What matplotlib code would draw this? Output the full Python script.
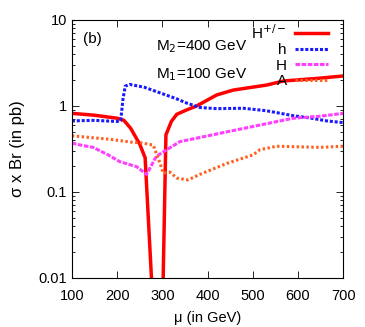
import matplotlib
matplotlib.use("Agg")
import matplotlib.pyplot as plt
from matplotlib.ticker import LogLocator, FixedLocator, NullFormatter

plt.rcParams['font.family'] = ['Liberation Sans', 'DejaVu Sans']

mu_hpm = [100, 150, 200, 215, 230, 250, 262, 280, 300, 308, 320, 332, 354, 376, 420, 457, 531, 568, 642, 700]
sig_hpm = [0.82, 0.78, 0.72, 0.68, 0.55, 0.36, 0.25, 0.004, 0.003, 0.46, 0.66, 0.80, 0.90, 1.0, 1.34, 1.53, 1.75, 1.95, 2.09, 2.23]

mu_h = [100, 150, 200, 208, 213, 218, 228, 260, 295, 330, 354, 383, 420, 479, 530, 590, 630, 664, 700]
sig_h = [0.67, 0.68, 0.66, 0.68, 1.2, 1.7, 1.78, 1.65, 1.42, 1.22, 1.08, 0.96, 0.93, 0.94, 0.88, 0.77, 0.72, 0.67, 0.64]

mu_H = [100, 120, 147, 180, 206, 243, 265, 287, 310, 339, 383, 443, 516, 590, 650, 700]
sig_H = [0.37, 0.35, 0.33, 0.27, 0.225, 0.197, 0.16, 0.26, 0.31, 0.385, 0.43, 0.50, 0.60, 0.72, 0.76, 0.82]

mu_A = [100, 140, 184, 230, 257, 280, 295, 302, 317, 332, 357, 383, 443, 501, 516, 553, 600, 650, 700]
sig_A = [0.45, 0.43, 0.41, 0.38, 0.37, 0.35, 0.215, 0.166, 0.17, 0.145, 0.138, 0.16, 0.215, 0.27, 0.31, 0.34, 0.335, 0.33, 0.34]

xticks = [100, 200, 300, 400, 500, 600, 700]
yticks = [0.01, 0.1, 1, 10]
ytick_labels = ['0.01', '0.1', '1', '10']

fig = plt.figure(figsize=(3.65, 3.27), dpi=100)
ax = fig.add_axes([0.197, 0.150, 0.743, 0.789])

ax.plot(mu_hpm, sig_hpm, color='#ff0000', lw=2.5, label='H$^{+/-}$', solid_joinstyle='miter')
ax.plot(mu_h, sig_h, color='#1a1aff', lw=2.2, ls=(0, (1, 0.6)), label='h')
ax.plot(mu_H, sig_H, color='#ff40ff', lw=2.2, ls=(0, (1.5, 0.5)), label='H')
ax.plot(mu_A, sig_A, color='#ff6020', lw=2.2, ls=(0, (0.8, 0.8)), label='A')

ax.set_yscale('log')
ax.set_xlim(100, 700)
ax.set_ylim(0.01, 10)
ax.xaxis.set_major_locator(FixedLocator(xticks))
ax.set_xticklabels([str(v) for v in xticks])
ax.yaxis.set_major_locator(FixedLocator(yticks))
ax.set_yticklabels(ytick_labels)
ax.yaxis.set_minor_locator(LogLocator(base=10, subs=range(2, 10)))
ax.yaxis.set_minor_formatter(NullFormatter())
ax.tick_params(which='both', direction='in', top=True, right=True, labelsize=10.5, colors='black')
ax.tick_params(which='major', length=5, width=0.6)
ax.tick_params(which='minor', length=2.5, width=0.6)
ax.tick_params(axis='x', pad=8)
for s in ax.spines.values():
    s.set_linewidth(0.8)

ax.set_xlabel('μ (in GeV)', fontsize=10.5, labelpad=6)
ax.set_ylabel('σ x Br (in pb)', fontsize=12, labelpad=10)

ax.text(0.04, 0.955, '(b)', transform=ax.transAxes, fontsize=11, va='top', ha='left')
ax.text(0.31, 0.93, 'M$_2$=400 GeV', transform=ax.transAxes, fontsize=11, va='top', ha='left')
ax.text(0.31, 0.82, 'M$_1$=100 GeV', transform=ax.transAxes, fontsize=11, va='top', ha='left')

leg = ax.legend(loc='upper right', bbox_to_anchor=(0.956, 1.0), frameon=False, markerfirst=False,
                fontsize=11, handlelength=2.2, handletextpad=0.5, labelspacing=0.1,
                borderaxespad=0.0, borderpad=0.2)

fig.savefig('out.png', dpi=100)
